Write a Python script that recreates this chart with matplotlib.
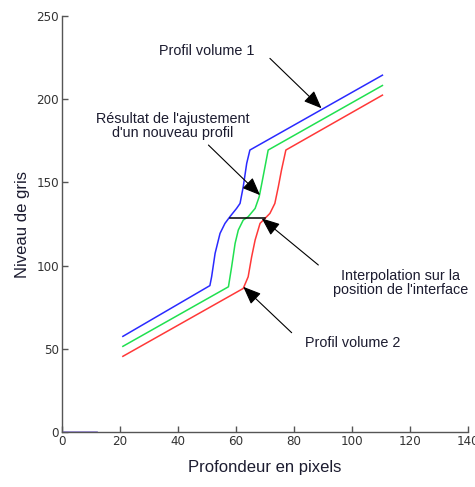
import matplotlib
matplotlib.use("Agg")
import matplotlib.pyplot as plt

# profils
x_bleu = [21, 51, 51.6, 52.8, 54.5, 56.2, 57.9, 60.2, 61.4, 62.5, 63.7, 64.8, 110.5]
y_bleu = [57.5, 88, 93.3, 107.4, 119.4, 125.4, 129.4, 134.4, 137.4, 147.4, 161.5, 169.5, 214.5]

x_vert = [21, 57.4, 58.5, 59.7, 60.8, 62.5, 64.2, 66.6, 68, 68.9, 70, 71.1, 110.5]
y_vert = [51.5, 87.3, 99.3, 113.4, 121.4, 127.4, 129.4, 134.4, 141.4, 149.4, 159.4, 169.5, 208.3]

x_rouge = [21, 62.5, 64.2, 65.4, 66.6, 68.3, 70, 71.7, 73.4, 74.6, 75.7, 77.2, 110.5]
y_rouge = [45.5, 86.3, 93.3, 105.3, 115.4, 125.4, 128.4, 131.4, 137.4, 147.4, 157.5, 169.5, 202.5]

x_interface = [57.9, 70.0]
y_interface = [128.4, 128.4]

x_bas = [0, 12]
y_bas = [0, 0]

col_texte = "#1c1c30"

fig = plt.figure(figsize=(4.75, 4.87), dpi=100)
ax = fig.add_axes([0.1305, 0.1129, 0.8547, 0.854])

ax.plot(x_bas, y_bas, color="#9484d8", lw=1.2)
ax.plot(x_bleu, y_bleu, color="#2a2aff", lw=1.1)
ax.plot(x_vert, y_vert, color="#20e050", lw=1.1)
ax.plot(x_rouge, y_rouge, color="#ff3838", lw=1.1)
ax.plot(x_interface, y_interface, color="black", lw=1.1)

fleche = dict(arrowstyle="-|>,head_length=1.1,head_width=0.45", color="black", lw=0.8, shrinkA=0, shrinkB=0)
police = dict(fontsize=10.4, color=col_texte, family=["Liberation Sans", "DejaVu Sans"], ha="center", va="center")

ax.annotate("Profil volume 1", xy=(89.5, 194.6), xytext=(49.8, 229.2), **police)
ax.annotate("", xy=(89.5, 194.6), xytext=(71.7, 224.6), arrowprops=fleche)

ax.annotate("Résultat de l'ajustement\nd'un nouveau profil", xy=(68.3, 142.4), xytext=(38.1, 184),
            linespacing=1.0, **police)
ax.annotate("", xy=(68.3, 142.4), xytext=(50.5, 172.5), arrowprops=fleche)

ax.annotate("Interpolation sur la\nposition de l'interface", xy=(68.9, 128.4), xytext=(116.8, 89.7),
            linespacing=1.0, **police)
ax.annotate("", xy=(68.9, 128.4), xytext=(88.4, 100.4), arrowprops=fleche)

ax.annotate("Profil volume 2", xy=(62.5, 87.3), xytext=(100.2, 53.7), **police)
ax.annotate("", xy=(62.5, 87.3), xytext=(79.2, 59.7), arrowprops=fleche)

ax.set_xlim(0, 140)
ax.set_ylim(0, 250)
ax.set_xticks(range(0, 141, 20))
ax.set_yticks(range(0, 251, 50))

for s in ["top", "right"]:
    ax.spines[s].set_visible(False)
for s in ["left", "bottom"]:
    ax.spines[s].set_color("#555555")
    ax.spines[s].set_linewidth(1.0)

ax.tick_params(direction="in", length=4, width=1, colors="#555555", labelcolor="#333333", labelsize=9.5, pad=2)
for lab in ax.get_xticklabels() + ax.get_yticklabels():
    lab.set_family(["DejaVu Sans"])
    lab.set_stretch("condensed")

ax.set_xlabel("Profondeur en pixels", fontsize=12, color=col_texte, family=["Liberation Sans", "DejaVu Sans"], labelpad=9)
ax.set_ylabel("Niveau de gris", fontsize=12, color=col_texte, family=["Liberation Sans", "DejaVu Sans"], labelpad=5)

fig.savefig("out.png", dpi=100)
